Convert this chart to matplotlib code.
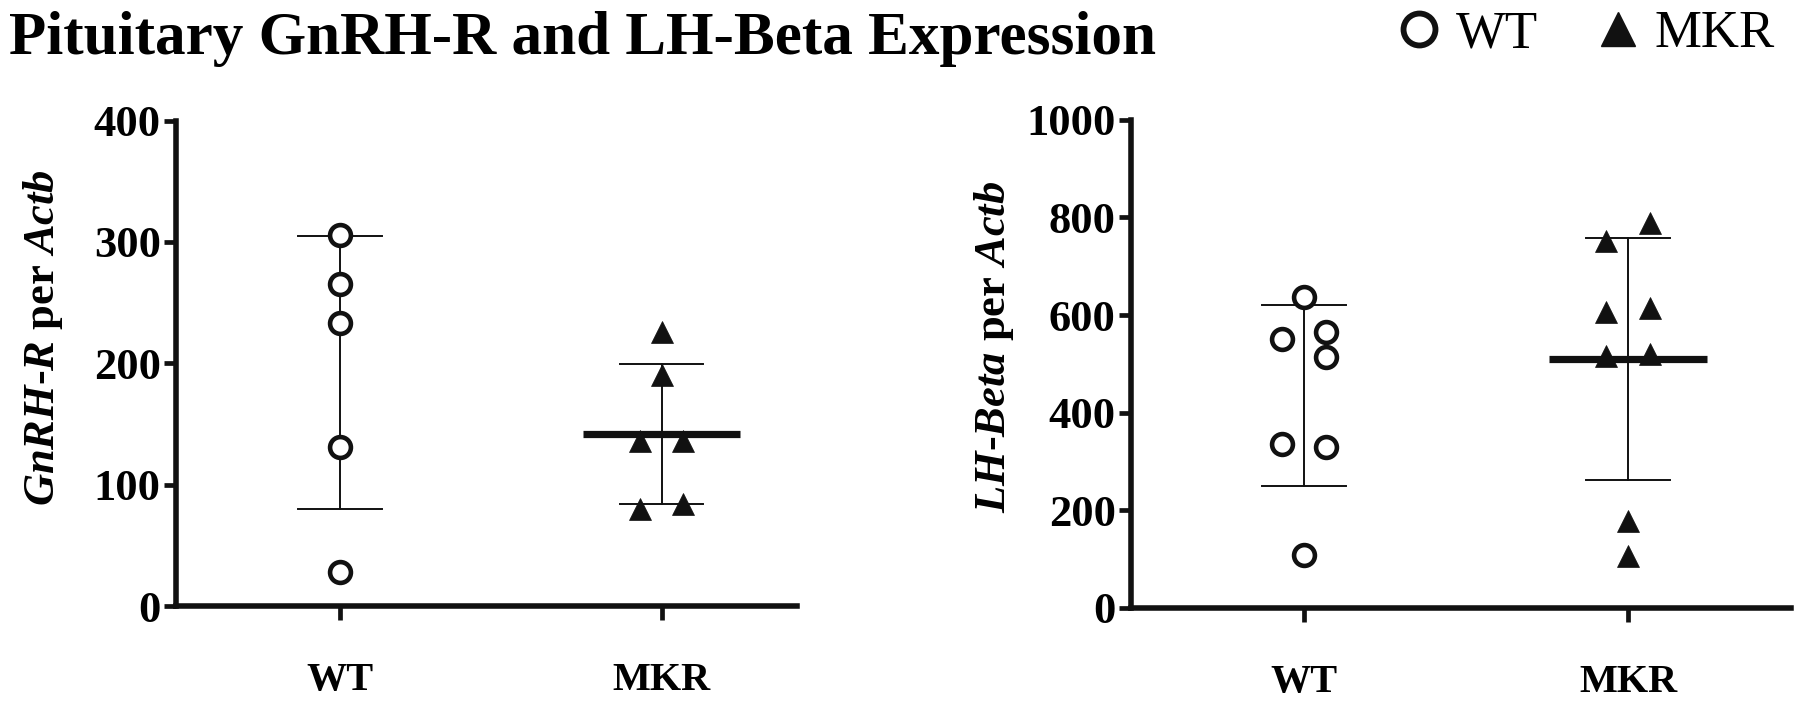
import numpy as np
import matplotlib
matplotlib.use('Agg')
import matplotlib.pyplot as plt
from matplotlib.lines import Line2D

plt.rcParams['font.family'] = 'Liberation Serif'
plt.rcParams['mathtext.fontset'] = 'custom'
plt.rcParams['mathtext.rm'] = 'Liberation Serif:bold'
plt.rcParams['mathtext.it'] = 'Liberation Serif:italic:bold'

groups = ['WT', 'MKR']

# GnRH-R per Actb
gnrh_wt = [306, 265, 233, 131, 28]
gnrh_wt_side = [0, 0, 0, 0, 0]
gnrh_mkr = [226, 190, 136, 136, 80, 84]
gnrh_mkr_side = [0, 0, -1, 1, -1, 1]

# LH-Beta per Actb
lhb_wt = [638, 551, 566, 515, 335, 329, 108]
lhb_wt_side = [0, -1, 1, 1, -1, 1, 0]
lhb_mkr = [751, 789, 607, 614, 517, 520, 178, 106]
lhb_mkr_side = [-1, 1, -1, 1, -1, 1, 0, 0]

DX = 0.068
ink = '#111111'


def panel(ax, wt, wt_side, mkr, mkr_side, ymax, step, ylabel, xlim):
    for i, (vals, side) in enumerate([(wt, wt_side), (mkr, mkr_side)]):
        vals = np.array(vals, dtype=float)
        m = vals.mean()
        sd = vals.std(ddof=1)
        ax.plot([i, i], [m - sd, m + sd], color=ink, lw=1.4, zorder=2)
        for y in (m - sd, m + sd):
            ax.plot([i - 0.13, i + 0.13], [y, y], color=ink, lw=1.4, zorder=2)
        if i == 0:
            ax.plot([i - 0.235, i + 0.235], [m, m], color=ink, lw=5.5,
                    linestyle=(0, (0, 2.2)), dash_capstyle='round', zorder=3)
        else:
            ax.plot([i - 0.245, i + 0.245], [m, m], color=ink, lw=5.2,
                    solid_capstyle='butt', zorder=3)
        xs = i + DX * np.array(side)
        if i == 0:
            ax.plot(xs, vals, 'o', ms=15, mfc='white', mec=ink, mew=3.3,
                    ls='none', zorder=4)
        else:
            ax.plot(xs, vals, '^', ms=16, mfc=ink, mec=ink, mew=0.5,
                    ls='none', zorder=4)

    ax.set_xlim(*xlim)
    ax.set_ylim(0, ymax)
    ax.set_yticks(np.arange(0, ymax + 1, step))
    ax.set_xticks([0, 1])
    ax.set_xticklabels(groups)
    for s in ('top', 'right'):
        ax.spines[s].set_visible(False)
    for s in ('left', 'bottom'):
        ax.spines[s].set_linewidth(4)
        ax.spines[s].set_color(ink)
        ax.spines[s].set_capstyle('projecting')
    ax.tick_params(axis='y', length=9, width=3.4, color=ink, pad=2,
                   labelsize=32)
    ax.tick_params(axis='x', length=10, width=3.4, color=ink, pad=30,
                   labelsize=29)
    for lab in ax.get_xticklabels() + ax.get_yticklabels():
        lab.set_fontweight('bold')
    ax.set_ylabel(ylabel, fontsize=32, fontweight='bold')


fig = plt.figure(figsize=(18, 7.05), dpi=100)
ax1 = fig.add_axes([0.0978, 0.1404, 0.3452, 0.6886])
ax2 = fig.add_axes([0.6283, 0.1376, 0.3667, 0.6924])

panel(ax1, gnrh_wt, gnrh_wt_side, gnrh_mkr, gnrh_mkr_side, 400, 100,
      r'$\mathit{GnRH}$-$\mathit{R}$ per $\mathit{Actb}$', (-0.509, 1.422))
panel(ax2, lhb_wt, lhb_wt_side, lhb_mkr, lhb_mkr_side, 1000, 200,
      r'$\mathit{LH}$-$\mathit{Beta}$ per $\mathit{Actb}$', (-0.534, 1.503))
ax1.yaxis.set_label_coords(-0.178, 0.552)
ax2.yaxis.set_label_coords(-0.174, 0.535)

fig.text(0.005, 1 - 54 / 705, 'Pituitary GnRH-R and LH-Beta Expression',
         fontsize=44, fontweight='bold', va='baseline', ha='left')

handles = [Line2D([], [], marker='o', ls='none', ms=23, mfc='white', mec=ink, mew=4.2),
           Line2D([], [], marker='^', ls='none', ms=25, mfc=ink, mec=ink)]
fig.legend(handles, groups, loc='center right', bbox_to_anchor=(0.986, 1 - 34 / 705),
           ncol=2, frameon=False, fontsize=38, handlelength=0.8,
           handletextpad=0.3, columnspacing=1.1, borderpad=0, borderaxespad=0)

fig.savefig('out.png', dpi=100)
